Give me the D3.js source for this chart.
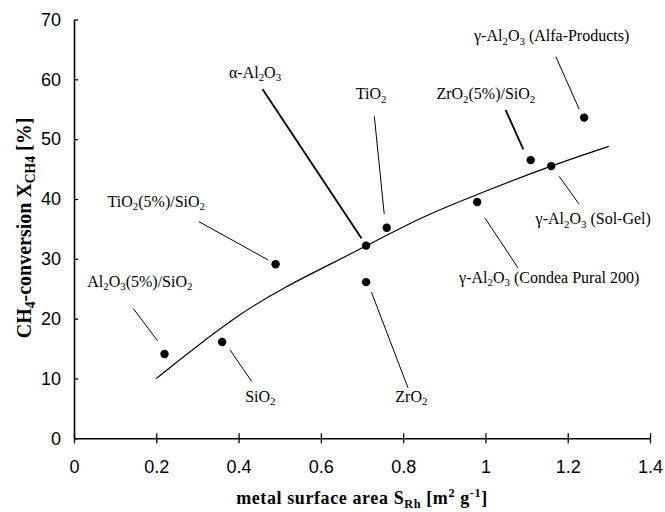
<!DOCTYPE html>
<html>
<head>
<meta charset="utf-8">
<script src="https://cdn.jsdelivr.net/npm/d3@7"></script>
<style>
  body { margin: 0; background: #fff; }
</style>
</head>
<body>
<div id="chart"></div>
<script>
// measured points: metal surface area S_Rh [m2/g] vs CH4 conversion [%]
const supports = [
  'Al_{2}O_{3}(5%)/SiO_{2}', 'SiO_{2}', 'TiO_{2}(5%)/SiO_{2}', 'α-Al_{2}O_{3}', 'TiO_{2}',
  'ZrO_{2}', 'γ-Al_{2}O_{3} (Condea Pural 200)', 'ZrO_{2}(5%)/SiO_{2}',
  'γ-Al_{2}O_{3} (Sol-Gel)', 'γ-Al_{2}O_{3} (Alfa-Products)'
];
const surfaceArea = [0.22, 0.36, 0.49, 0.71, 0.76, 0.71, 0.98, 1.11, 1.16, 1.24];
const conversion = [14.1, 16.1, 29.1, 32.2, 35.2, 26.1, 39.5, 46.5, 45.5, 53.6];

// trend curve
const trendX = [0.2, 0.4, 0.7, 0.85, 1.0, 1.16, 1.3];
const trendY = [10.0, 20.5, 31.8, 37.0, 41.3, 45.5, 48.8];

const xTicks = [0, 0.2, 0.4, 0.6, 0.8, 1, 1.2, 1.4];
const yTicks = [0, 10, 20, 30, 40, 50, 60, 70];

// annotation layout in data units: label centre / baseline, leader start -> end
const annotations = [
  {lx: 0.160, ly: 25.3, x1: 0.144, y1: 21.7, x2: 0.203, y2: 16.3, w: 1},
  {lx: 0.453, ly: 6.1,  x1: 0.379, y1: 14.8, x2: 0.432, y2: 9.5,  w: 1},
  {lx: 0.200, ly: 38.7, x1: 0.304, y1: 36.2, x2: 0.472, y2: 29.8, w: 1},
  {lx: 0.440, ly: 60.3, x1: 0.458, y1: 58.4, x2: 0.699, y2: 33.4, w: 1.8},
  {lx: 0.722, ly: 56.7, x1: 0.730, y1: 53.8, x2: 0.754, y2: 37.5, w: 1},
  {lx: 0.820, ly: 6.1,  x1: 0.723, y1: 24.4, x2: 0.812, y2: 8.4,  w: 1},
  {lx: 1.155, ly: 26.0, x1: 0.999, y1: 36.8, x2: 1.079, y2: 28.5, w: 1},
  {lx: 1.001, ly: 56.7, x1: 1.049, y1: 54.9, x2: 1.092, y2: 48.3, w: 1.8},
  {lx: 1.262, ly: 35.8, x1: 1.179, y1: 43.8, x2: 1.227, y2: 39.2, w: 1},
  {lx: 1.161, ly: 66.4, x1: 1.171, y1: 63.8, x2: 1.228, y2: 55.0, w: 1}
];

const W = 665, H = 512;
const margin = {top: 19.5, right: 15, bottom: 73.7, left: 74};
const width = W - margin.left - margin.right;
const height = H - margin.top - margin.bottom;

const serif = '"Liberation Serif", "Times New Roman", serif';
const sans = '"Liberation Sans", Arial, sans-serif';

// text with _{sub} and ^{sup} parts
function rich(text, str, size) {
  const parts = str.split(/(_\{[^}]*\}|\^\{[^}]*\})/).filter((s) => s.length);
  let shift = 0;
  parts.forEach((p) => {
    let t = p, s = 0, fs = size;
    if (p[0] === '_') { t = p.slice(2, -1); s = size * 0.22; fs = size * 0.68; }
    else if (p[0] === '^') { t = p.slice(2, -1); s = -size * 0.4; fs = size * 0.68; }
    text.append('tspan').attr('dy', s - shift).attr('font-size', fs).text(t);
    shift = s;
  });
}

const x = d3.scaleLinear().domain([0, 1.4]).range([0, width]);
const y = d3.scaleLinear().domain([0, 70]).range([height, 0]);

const svg = d3.select('#chart')
  .append('svg')
    .attr('width', W)
    .attr('height', H)
  .append('g')
    .attr('transform', `translate(${margin.left}, ${margin.top})`);

const xAxis = svg.append('g')
  .attr('transform', `translate(0, ${height})`)
  .call(d3.axisBottom(x).tickValues(xTicks).tickSize(5).tickSizeOuter(0).tickPadding(17)
    .tickFormat((d) => String(d)));

const yAxis = svg.append('g')
  .call(d3.axisLeft(y).tickValues(yTicks).tickSize(4).tickSizeOuter(0).tickPadding(9));

[xAxis, yAxis].forEach((g) => {
  g.select('.domain').attr('stroke', '#000').attr('stroke-width', 1.6);
  g.selectAll('.tick text').attr('font-family', sans).attr('font-size', 18).attr('fill', '#000');
});
xAxis.selectAll('.tick line').attr('y1', -5).attr('stroke-width', 1.3);
yAxis.selectAll('.tick line').attr('x2', 4).attr('stroke-width', 1.3);

// trend curve
const trend = trendX.map((d, i) => [d, trendY[i]]);
svg.append('path')
  .datum(trend)
  .attr('fill', 'none')
  .attr('stroke', '#000')
  .attr('stroke-width', 1.2)
  .attr('d', d3.line().x((d) => x(d[0])).y((d) => y(d[1])).curve(d3.curveMonotoneX));

// leader lines
svg.append('g')
  .selectAll('line')
  .data(annotations)
  .join('line')
    .attr('x1', (d) => x(d.x1))
    .attr('y1', (d) => y(d.y1))
    .attr('x2', (d) => x(d.x2))
    .attr('y2', (d) => y(d.y2))
    .attr('stroke', '#000')
    .attr('stroke-width', (d) => d.w);

// points
svg.append('g')
  .selectAll('circle')
  .data(surfaceArea)
  .join('circle')
    .attr('cx', (d) => x(d))
    .attr('cy', (d, i) => y(conversion[i]))
    .attr('r', 4.2)
    .attr('fill', '#000');

// labels
supports.forEach((name, i) => {
  const a = annotations[i];
  const t = svg.append('text')
    .attr('x', x(a.lx))
    .attr('y', y(a.ly))
    .attr('text-anchor', 'middle')
    .attr('font-family', serif)
    .attr('font-size', 16)
    .attr('fill', '#000');
  rich(t, name, 16);
});

// axis titles
const xt = svg.append('text')
  .attr('x', width / 2)
  .attr('y', height + 66)
  .attr('text-anchor', 'middle')
  .attr('font-family', serif)
  .attr('font-weight', 'bold')
  .attr('font-size', 18)
  .attr('letter-spacing', 0.6)
  .attr('fill', '#000');
rich(xt, 'metal surface area S_{Rh} [m^{2} g^{-1}]', 18);

const yt = svg.append('text')
  .attr('transform', `translate(${31 - margin.left}, ${228 - margin.top}) rotate(-90)`)
  .attr('text-anchor', 'middle')
  .attr('font-family', serif)
  .attr('font-weight', 'bold')
  .attr('font-size', 20)
  .attr('fill', '#000');
rich(yt, 'CH_{4}-conversion X_{CH4} [%]', 20);
</script>
</body>
</html>
